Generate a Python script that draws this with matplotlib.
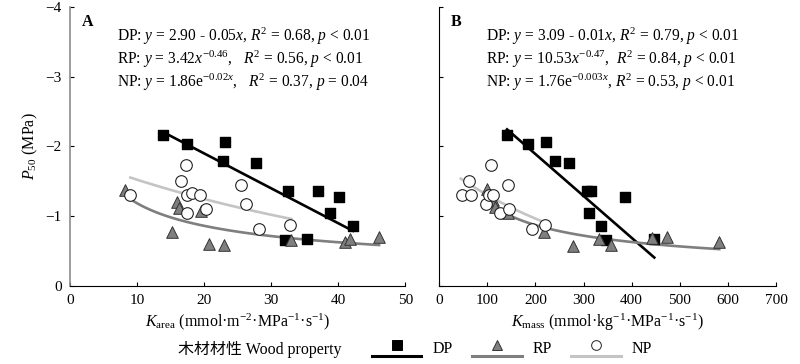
import numpy as np
import matplotlib
matplotlib.use('Agg')
import matplotlib.pyplot as plt
from matplotlib.lines import Line2D
from matplotlib.legend_handler import HandlerBase

plt.rcParams['font.family'] = ['Liberation Serif', 'Noto Sans CJK SC']
plt.rcParams['mathtext.fontset'] = 'custom'
plt.rcParams['mathtext.rm'] = 'Liberation Serif'
plt.rcParams['mathtext.it'] = 'Liberation Serif:italic'
plt.rcParams['mathtext.bf'] = 'Liberation Serif:bold'
plt.rcParams['axes.unicode_minus'] = True

# ---- panel A: K_area vs P50 ----
dp_ka = [13.8, 17.5, 23.1, 22.8, 27.8, 32.5, 37.0, 40.1, 38.8, 42.2, 32.0, 35.3]
dp_pa = [-2.17, -2.04, -2.07, -1.79, -1.76, -1.36, -1.36, -1.27, -1.04, -0.86, -0.66, -0.67]
rp_ka = [8.2, 16.0, 16.2, 15.2, 19.5, 20.7, 23.0, 32.9, 41.0, 41.8, 46.1]
rp_pa = [-1.37, -1.20, -1.12, -0.77, -1.08, -0.60, -0.59, -0.66, -0.63, -0.68, -0.70]
np_ka = [9.0, 17.3, 16.5, 17.4, 18.2, 19.4, 17.5, 20.3, 25.5, 26.3, 28.2, 32.8]
np_pa = [-1.31, -1.73, -1.51, -1.31, -1.33, -1.30, -1.05, -1.10, -1.44, -1.18, -0.82, -0.87]

# ---- panel B: K_mass vs P50 ----
dp_km = [141, 185, 222, 241, 270, 308, 315, 387, 312, 336, 347, 447]
dp_pm = [-2.17, -2.04, -2.07, -1.79, -1.76, -1.36, -1.36, -1.27, -1.04, -0.86, -0.66, -0.67]
rp_km = [100, 112, 117, 143, 218, 279, 333, 357, 443, 474, 582]
rp_pm = [-1.39, -1.23, -1.13, -1.04, -0.77, -0.57, -0.67, -0.59, -0.69, -0.70, -0.63]
np_km = [47, 66, 61, 108, 98, 104, 111, 143, 127, 145, 193, 220]
np_pm = [-1.31, -1.31, -1.51, -1.73, -1.18, -1.30, -1.31, -1.44, -1.05, -1.10, -0.82, -0.87]

# fitted equations (coefficients from the panel text) and x ranges of the fit lines
fit_a = {'DP': (2.90, 0.05, 13.8, 42.2), 'RP': (3.42, -0.46, 8.5, 46.1), 'NP': (1.86, -0.02, 9.0, 33.0)}
fit_b = {'DP': (3.09, 0.006, 141, 447), 'RP': (10.53, -0.47, 100, 582), 'NP': (1.76, -0.003, 45, 222)}

eq_a = [r'DP: $y$ = 2.90 - 0.05$x$, $R^2$ = 0.68, $p$ < 0.01',
        r'RP: $y$ = 3.42$x^{-0.46}$,   $R^2$ = 0.56, $p$ < 0.01',
        r'NP: $y$ = 1.86e$^{-0.02x}$,   $R^2$ = 0.37, $p$ = 0.04']
eq_b = [r'DP: $y$ = 3.09 - 0.01$x$, $R^2$ = 0.79, $p$ < 0.01',
        r'RP: $y$ = 10.53$x^{-0.47}$,  $R^2$ = 0.84, $p$ < 0.01',
        r'NP: $y$ = 1.76e$^{-0.003x}$, $R^2$ = 0.53, $p$ < 0.01']

c_dp, c_rp, c_np = '#000000', '#7f7f7f', '#c4c4c4'

fig = plt.figure(figsize=(8, 3.64), dpi=100)
axA = fig.add_axes([0.0875, 0.2143, 0.419, 0.767])
axB = fig.add_axes([0.549, 0.2143, 0.421, 0.767])


def draw(ax, fit, dpx, dpy, rpx, rpy, npx, npy):
    a, b, x0, x1 = fit['DP']
    xs = np.linspace(x0, x1, 50)
    ax.plot(xs, -(a - b * xs), color=c_dp, lw=1.9, zorder=2)
    a, b, x0, x1 = fit['RP']
    xs = np.linspace(x0, x1, 100)
    ax.plot(xs, -(a * xs ** b), color=c_rp, lw=1.9, zorder=2)
    a, b, x0, x1 = fit['NP']
    xs = np.linspace(x0, x1, 100)
    ax.plot(xs, -(a * np.exp(b * xs)), color=c_np, lw=1.9, zorder=2)
    ax.scatter(dpx, dpy, marker='s', s=48, c='black', zorder=3)
    ax.scatter(rpx, rpy, marker='^', s=70, c=c_rp, edgecolors='#333333', linewidths=0.7, zorder=3)
    ax.scatter(npx, npy, marker='o', s=70, c='white', edgecolors='#222222', linewidths=0.8, zorder=3)
    ax.set_ylim(0, -4)
    ax.set_yticks([0, -1, -2, -3, -4])
    ax.spines['top'].set_visible(False)
    ax.spines['right'].set_visible(False)
    ax.tick_params(direction='in', labelsize=11, length=3, pad=6)


draw(axA, fit_a, dp_ka, dp_pa, rp_ka, rp_pa, np_ka, np_pa)
draw(axB, fit_b, dp_km, dp_pm, rp_km, rp_pm, np_km, np_pm)

axA.set_xlim(0, 50)
axA.set_xticks(range(0, 51, 10))
axB.set_xlim(0, 700)
axB.set_xticks(range(0, 701, 100))
axB.tick_params(labelleft=False)
axA.spines['left'].set_color('#8c8c8c')
axA.spines['left'].set_linewidth(1.2)

axA.set_ylabel(r'$P_{50}$ (MPa)', fontsize=11.5, labelpad=4)
axA.set_xlabel(r'$K_{\mathrm{area}}$ (mmol·m$^{-2}$·MPa$^{-1}$·s$^{-1}$)', fontsize=11.5, labelpad=3)
axB.set_xlabel(r'$K_{\mathrm{mass}}$ (mmol·kg$^{-1}$·MPa$^{-1}$·s$^{-1}$)', fontsize=11.5, labelpad=3)

for ax, lab, eqs in [(axA, 'A', eq_a), (axB, 'B', eq_b)]:
    ax.text(0.035, 0.945, lab, transform=ax.transAxes, fontsize=11.5, fontweight='bold', va='center')
    for i, s in enumerate(eqs):
        ax.text(0.14, 0.895 - i * 0.082, s, transform=ax.transAxes, fontsize=11.2, va='center')


class LineUnderMarker(HandlerBase):
    def create_artists(self, legend, orig_handle, xdescent, ydescent, width, height, fontsize, trans):
        color, marker, face, edge = orig_handle
        mid = height / 2 - ydescent
        ln = Line2D([-xdescent, width - xdescent], [mid - 6, mid - 6], color=color, lw=2.2)
        mk = Line2D([width / 2 - xdescent], [mid + 2], marker=marker, ms=7,
                    markerfacecolor=face, markeredgecolor=edge, markeredgewidth=0.7, ls='none')
        ln.set_transform(trans)
        mk.set_transform(trans)
        return [ln, mk]


handles = [(c_dp, 's', 'black', 'black'), (c_rp, '^', c_rp, '#333333'), (c_np, 'o', 'white', '#222222')]
fig.legend(handles, ['DP', 'RP', 'NP'], handler_map={tuple: LineUnderMarker()},
           loc='center left', bbox_to_anchor=(0.447, 0.04), ncol=3, frameon=False,
           fontsize=11.5, handlelength=3.1, handletextpad=0.7, columnspacing=1.2)
fig.text(0.223, 0.04, '木材材性 Wood property', fontsize=11.5, va='center')

fig.savefig('out.png', dpi=100)
